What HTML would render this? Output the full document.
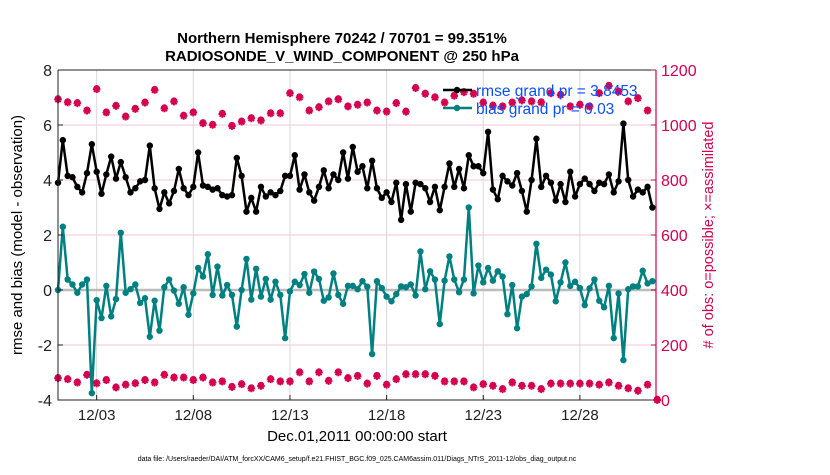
<!DOCTYPE html>
<html><head><meta charset="utf-8"><style>
body{margin:0;background:#fff;}
svg{font-family:"Liberation Sans",sans-serif;}
</style></head><body>
<svg id="chart" width="830" height="470" xmlns="http://www.w3.org/2000/svg">
<rect width="830" height="470" fill="#fff"/>
<text x="342" y="43" text-anchor="middle" font-size="15" font-weight="bold">Northern Hemisphere 70242 / 70701 = 99.351%</text>
<text x="342" y="61" text-anchor="middle" font-size="15" font-weight="bold">RADIOSONDE_V_WIND_COMPONENT @ 250 hPa</text>
<g id="grid"></g>
<g id="series"></g>
<g id="axes"></g>
<text transform="translate(22,235) rotate(-90)" text-anchor="middle" font-size="15">rmse and bias (model - observation)</text>
<text transform="translate(713,235) rotate(-90)" text-anchor="middle" font-size="14.5" fill="#d6004f"># of obs: o=possible; ×=assimilated</text>
<text x="357" y="441" text-anchor="middle" font-size="15">Dec.01,2011 00:00:00 start</text>
<text x="357" y="461" text-anchor="middle" font-size="7">data file: /Users/raeder/DAI/ATM_forcXX/CAM6_setup/f.e21.FHIST_BGC.f09_025.CAM6assim.011/Diags_NTrS_2011-12/obs_diag_output.nc</text>
<g>
<line x1="443" y1="90" x2="472" y2="90" stroke="#000" stroke-width="2.5"/><circle cx="457" cy="90" r="3.2" fill="#000"/>
<line x1="443" y1="108" x2="472" y2="108" stroke="#008080" stroke-width="2.5"/><circle cx="457" cy="108" r="3.2" fill="#008080"/>
<text x="476" y="96" font-size="15.5" fill="#0a50ff">rmse grand pr = 3.8453</text>
<text x="476" y="114" font-size="15.5" fill="#0a50ff">bias grand pr = 0.03</text>
</g>
</svg>
<script>
const rmse=[3.9,5.45,4.15,4.1,3.75,3.55,4.25,5.3,4.3,3.5,4.2,4.85,4.05,4.65,4.1,3.55,3.7,3.95,4.0,5.25,3.7,2.95,3.55,3.15,3.6,4.4,3.7,3.45,3.75,5.0,3.8,3.75,3.65,3.7,3.45,3.4,3.45,4.8,4.15,2.85,3.35,2.85,3.75,3.4,3.55,3.45,3.6,4.15,4.15,4.9,3.65,4.2,3.55,3.25,3.75,4.35,3.7,4.2,4.0,5.0,4.05,5.2,4.3,4.5,3.7,4.7,3.7,3.35,3.55,3.2,3.9,2.55,3.85,2.85,3.9,3.85,3.7,3.2,3.75,2.9,3.75,4.6,3.75,4.4,3.7,4.9,4.5,4.5,4.25,5.75,3.65,3.3,4.15,3.95,3.8,4.25,3.6,2.85,4.0,5.5,3.75,4.15,3.9,3.25,3.85,3.2,4.3,3.4,3.85,4.05,3.85,3.6,3.9,3.85,4.2,3.55,3.95,6.05,4.0,3.4,3.65,3.55,3.75,3.0];
const bias=[0,2.3,0.38,0.2,-0.1,0.2,0.38,-3.75,-0.37,-1.02,0.15,-0.96,-0.33,2.08,-0.1,0.03,0.2,-0.47,-0.3,-1.7,-0.39,-1.48,0.1,0.38,-0.02,-0.5,0.1,-0.9,-0.12,0.8,0.49,1.3,-0.18,0.85,-0.2,0.18,-0.18,-1.33,0,1.13,-0.35,0.77,-0.24,0.4,-0.35,0.3,-0.18,-1.75,-0.05,0.3,0.18,0.58,-0.1,0.67,0.4,-0.39,-0.27,0.6,-0.18,-0.5,0.15,0.15,0.03,0.32,0.12,-2.33,0.32,0.07,-0.24,-0.41,-0.15,0.13,0.1,0.2,-0.2,1.4,0.03,0.68,0.38,-1.24,0.34,1.22,0.38,-0.08,0.38,3.0,-0.12,0.89,0.28,0.8,0.34,0.68,0.49,-0.88,0.18,-1.39,-0.24,-0.15,0.13,1.68,0.44,0.74,0.56,-0.41,0.28,1.0,0.15,0.3,0.07,-0.55,0.06,0.38,-0.39,-0.63,0.15,-1.75,-0.12,-2.55,0.03,0.13,0.13,0.7,0.24,0.32];
const upperCounts=[1093,1082,1079,1052,1130,1045,1069,1030,1058,1081,1127,1060,1085,1033,1045,1006,1000,1040,996,1012,1024,1016,1042,1042,1115,1100,1052,1064,1085,1093,1067,1073,1081,1052,1048,1079,1048,1134,1113,1100,1081,1106,1119,1113,1081,1070,1067,1081,1089,1085,1082,1115,1109,1067,1073,1067,1115,1142,1121,1085,1097,1052,0];
const lowerCounts=[79,75,63,91,60,72,45,55,60,72,63,91,81,81,72,81,63,67,47,57,42,51,75,67,67,100,67,100,69,100,79,87,59,87,55,75,93,93,93,87,67,67,67,45,57,51,39,63,51,51,39,59,59,59,59,59,55,63,51,42,33,55,0];
const leftTicks=[-4,-2,0,2,4,6,8];
const rightTicks=[0,200,400,600,800,1000,1200];
const xTickDays=[2,7,12,17,22,27];
const xTickLabels=["12/03","12/08","12/13","12/18","12/23","12/28"];

const NS="http://www.w3.org/2000/svg";
const L=58,R=656,T=70,B=400,DAYPX=19.33;
const xDay=d=>L+d*DAYPX;
const yL=v=>B-(v+4)/12*(B-T);
const yR=c=>B-c/1200*(B-T);
const PINK="#d6004f",TEAL="#008080";
function mk(tag,attrs,parent){const e=document.createElementNS(NS,tag);for(const k in attrs)e.setAttribute(k,attrs[k]);parent.appendChild(e);return e;}
const grid=document.getElementById('grid'),ser=document.getElementById('series'),ax=document.getElementById('axes');
leftTicks.forEach(v=>{if(v>-4&&v<8){const l=mk('line',{x1:L,x2:R,y1:yL(v),y2:yL(v),stroke:'#f5c6d6','stroke-width':1},grid);}});
xTickDays.forEach(d=>{const l=mk('line',{x1:xDay(d),x2:xDay(d),y1:T,y2:B,stroke:'#d8d8d8','stroke-width':1},grid);});
const z=mk('line',{x1:L,x2:R,y1:yL(0),y2:yL(0),stroke:'#bbb','stroke-width':2.5},grid);


function star(cx,cy,parent){const g=mk('g',{},parent);


mk('circle',{cx:cx,cy:cy-1,r:2.6,fill:'none',stroke:PINK,'stroke-width':1.3},g);
mk('path',{d:`M${cx-3.8} ${cy}H${cx+3.8}M${cx} ${cy-3.8}V${cy+3.8}M${cx-2.7} ${cy-2.7}L${cx+2.7} ${cy+2.7}M${cx-2.7} ${cy+2.7}L${cx+2.7} ${cy-2.7}`,stroke:PINK,'stroke-width':2},g);
mk('circle',{cx:cx,cy:cy,r:2.2,fill:PINK},g);}
[upperCounts,lowerCounts].forEach(arr=>arr.forEach((c,j)=>star(xDay(j*0.5),yR(c),ser)));
function line(arr,color,name){const pts=arr.map((v,i)=>xDay(i*0.25).toFixed(1)+','+yL(v).toFixed(1)).join(' ');
const p=mk('polyline',{points:pts,fill:'none',stroke:color,'stroke-width':2.5,'stroke-linejoin':'round'},ser);


arr.forEach((v,i)=>{const c=mk('circle',{cx:xDay(i*0.25),cy:yL(v),r:3.2,fill:color},ser);

});}
line(bias,TEAL,'bias');
line(rmse,'#000','rmse');
mk('path',{d:`M${L} ${T}H${R}M${L} ${T}V${B}H${R}`,fill:'none',stroke:'#222','stroke-width':1},ax);
mk('line',{x1:R,x2:R,y1:T,y2:B,stroke:PINK,'stroke-width':1.2},ax);
leftTicks.forEach(v=>{mk('line',{x1:L,x2:L+5,y1:yL(v),y2:yL(v),stroke:'#222'},ax);
const t=mk('text',{x:L-6,y:yL(v)+6,'text-anchor':'end','font-size':16,fill:'#222'},ax);t.textContent=v;

});
rightTicks.forEach(c=>{mk('line',{x1:R-5,x2:R,y1:yR(c),y2:yR(c),stroke:PINK},ax);
const t=mk('text',{x:R+5,y:yR(c)+6,'font-size':16,fill:PINK},ax);t.textContent=c;

});
xTickDays.forEach((d,i)=>{mk('line',{x1:xDay(d),x2:xDay(d),y1:B,y2:B-5,stroke:'#222'},ax);
const t=mk('text',{x:xDay(d),y:B+20,'text-anchor':'middle','font-size':15,fill:'#222'},ax);t.textContent=xTickLabels[i];

});
</script>
</body></html>
